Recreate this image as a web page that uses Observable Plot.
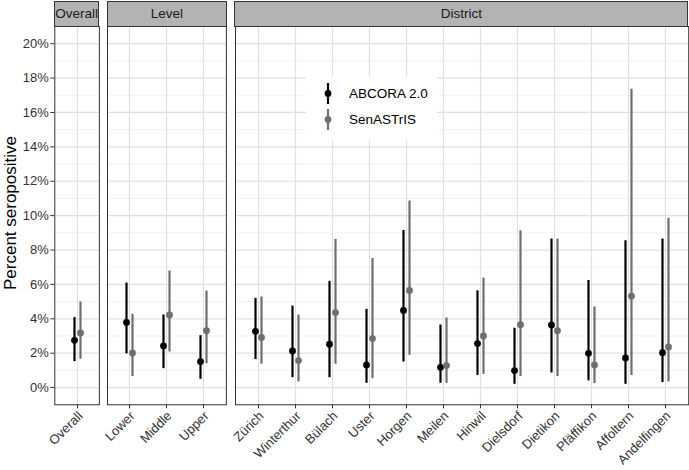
<!DOCTYPE html>
<html>
<head>
<meta charset="utf-8">
<script src="https://cdn.jsdelivr.net/npm/d3@7"></script>
<script src="https://cdn.jsdelivr.net/npm/@observablehq/plot@0.6"></script>
<style>
  html, body { margin: 0; padding: 0; background: #fff; }
  #chart { position: relative; width: 689px; height: 470px; font-family: "Liberation Sans", Arial, sans-serif; overflow: hidden; }
  .strip { position: absolute; box-sizing: border-box; background: #b3b3b3; border: 1px solid #333; color: #1a1a1a; font-size: 13.5px; text-align: center; line-height: 23px; }
  .panel { position: absolute; }
  .ytitle { position: absolute; left: 11px; top: 213px; transform: translate(-50%, -50%) rotate(-90deg); font-size: 17px; color: #000; white-space: nowrap; }
  .legend { position: absolute; left: 306px; top: 77px; width: 131px; height: 63px; background: #fff; }
</style>
</head>
<body>
<div id="chart"></div>
<script>
// ---- data ----
const overallCats = ["Overall"];
const levelCats = ["Lower", "Middle", "Upper"];
const districtCats = ["Zürich", "Winterthur", "Bülach", "Uster", "Horgen", "Meilen", "Hinwil", "Dielsdorf", "Dietikon", "Pfäffikon", "Affoltern", "Andelfingen"];
const groups = ["Overall", "Level", "District"];
const seriesNames = ["ABCORA 2.0", "SenASTrIS"];
const seriesColors = ["#000000", "#6e6e6e"];

// values in percent, order: Overall, Level (3), District (12)
const abcoraEst  = [2.75, 3.79, 2.42, 1.51, 3.27, 2.13, 2.52, 1.32, 4.49, 1.18, 2.56, 0.99, 3.64, 1.99, 1.72, 2.03];
const abcoraLow  = [1.51, 1.96, 1.10, 0.48, 1.63, 0.58, 0.58, 0.25, 1.49, 0.25, 0.70, 0.19, 0.85, 0.39, 0.19, 0.29];
const abcoraHigh = [4.07, 6.08, 4.22, 3.02, 5.19, 4.74, 6.18, 4.55, 9.14, 3.64, 5.63, 3.45, 8.64, 6.23, 8.54, 8.64];
const senEst     = [3.18, 2.01, 4.22, 3.31, 2.92, 1.57, 4.36, 2.85, 5.65, 1.28, 3.00, 3.66, 3.31, 1.32, 5.32, 2.36];
const senLow     = [1.65, 0.64, 2.07, 1.39, 1.36, 0.33, 1.36, 0.52, 1.88, 0.25, 0.77, 0.64, 0.64, 0.23, 0.70, 0.33];
const senHigh    = [4.98, 4.26, 6.78, 5.61, 5.27, 4.22, 8.62, 7.51, 10.85, 4.05, 6.37, 9.12, 8.64, 4.69, 17.35, 9.85];

const yTicks = [0, 2, 4, 6, 8, 10, 12, 14, 16, 18, 20];
const yMinor = [1, 3, 5, 7, 9, 11, 13, 15, 17, 19];

// ---- build rows ----
const allCats = [...overallCats, ...levelCats, ...districtCats];
const catGroup = [...overallCats.map(() => "Overall"), ...levelCats.map(() => "Level"), ...districtCats.map(() => "District")];
const rows = [];
allCats.forEach((c, i) => {
  rows.push({group: catGroup[i], cat: c, series: seriesNames[0], est: abcoraEst[i], low: abcoraLow[i], high: abcoraHigh[i]});
  rows.push({group: catGroup[i], cat: c, series: seriesNames[1], est: senEst[i], low: senLow[i], high: senHigh[i]});
});

const chart = document.getElementById("chart");
const panelTop = 26, panelBottom = 404.3;
const step = 37.15;
const panels = [
  {name: "Overall", cats: overallCats, left: 54.3},
  {name: "Level", cats: levelCats, left: 107.4},
  {name: "District", cats: districtCats, left: 234.7}
];

panels.forEach((p, pi) => {
  const pw = (p.cats.length + 0.2) * step;
  const isFirst = pi === 0;
  const mL = isFirst ? p.left : 1;
  const mR = 1, mT = 1;
  const mB = 470 - panelBottom;
  const data = rows.filter(d => d.group === p.name);
  const marks = [
    Plot.ruleY(yMinor, {stroke: "#ededed", strokeWidth: 0.7}),
    Plot.ruleY(yTicks, {stroke: "#e0e0e0", strokeWidth: 1.2}),
    Plot.ruleX(p.cats, {stroke: "#e0e0e0", strokeWidth: 1.2})
  ];
  seriesNames.forEach((s, si) => {
    const sd = data.filter(d => d.series === s);
    const dx = si === 0 ? -3 : 3;
    marks.push(Plot.ruleX(sd, {x: "cat", y1: "low", y2: "high", stroke: seriesColors[si], strokeWidth: 2.2, dx}));
    marks.push(Plot.dot(sd, {x: "cat", y: "est", r: 3.4, fill: seriesColors[si], stroke: "none", dx}));
  });
  marks.push(Plot.frame({stroke: "#333", strokeWidth: 1}));
  marks.push(Plot.axisX({tickSize: 4, tickFormat: () => "", label: null, color: "#333"}));
  marks.push(Plot.axisX({tickRotate: -45, tickSize: 0, tickPadding: 6, dx: 3, dy: 3, label: null, fontSize: 13, color: "#333"}));
  if (isFirst) {
    marks.push(Plot.axisY({ticks: yTicks, tickFormat: d => d + "%", tickSize: 4, tickPadding: 2, label: null, fontSize: 13, color: "#333"}));
  }
  const svg = Plot.plot({
    width: mL + pw + mR,
    height: mT + (panelBottom - panelTop) + mB,
    marginLeft: mL, marginRight: mR, marginTop: mT, marginBottom: mB,
    x: {type: "point", domain: p.cats, padding: 0.6, axis: null},
    y: {domain: [-1, 21], axis: null},
    style: {fontFamily: "Liberation Sans, Arial, sans-serif", fontSize: "13px", color: "#333", background: "transparent", overflow: "visible"},
    marks
  });
  const wrap = document.createElement("div");
  wrap.className = "panel";
  wrap.style.left = (p.left - mL) + "px";
  wrap.style.top = (panelTop - mT) + "px";
  wrap.appendChild(svg);
  chart.appendChild(wrap);

  const strip = document.createElement("div");
  strip.className = "strip";
  strip.style.left = (p.left - 0.5) + "px";
  strip.style.top = "1px";
  strip.style.width = (pw + 1) + "px";
  strip.style.height = (panelTop - 0.5) + "px";
  strip.textContent = p.name;
  chart.appendChild(strip);
});

const yt = document.createElement("div");
yt.className = "ytitle";
yt.textContent = "Percent seropositive";
chart.appendChild(yt);

// legend
const leg = document.createElement("div");
leg.className = "legend";
const ns = "http://www.w3.org/2000/svg";
const lsvg = document.createElementNS(ns, "svg");
lsvg.setAttribute("width", 131); lsvg.setAttribute("height", 63);
seriesNames.forEach((s, i) => {
  const cy = 16.5 + i * 26;
  const line = document.createElementNS(ns, "line");
  line.setAttribute("x1", 22); line.setAttribute("x2", 22);
  line.setAttribute("y1", cy - 10.5); line.setAttribute("y2", cy + 10.5);
  line.setAttribute("stroke", seriesColors[i]); line.setAttribute("stroke-width", 2.2);
  lsvg.appendChild(line);
  const c = document.createElementNS(ns, "circle");
  c.setAttribute("cx", 22); c.setAttribute("cy", cy); c.setAttribute("r", 3.4);
  c.setAttribute("fill", seriesColors[i]);
  lsvg.appendChild(c);
  const t = document.createElementNS(ns, "text");
  t.setAttribute("x", 43); t.setAttribute("y", cy);
  t.setAttribute("dy", "0.35em");
  t.setAttribute("font-size", "13.5px");
  t.setAttribute("font-family", "Liberation Sans, Arial, sans-serif");
  t.setAttribute("fill", "#000");
  t.textContent = s;
  lsvg.appendChild(t);
});
leg.appendChild(lsvg);
chart.appendChild(leg);
</script>
</body>
</html>
